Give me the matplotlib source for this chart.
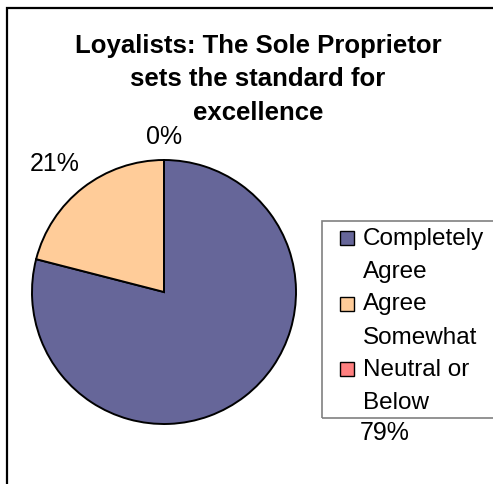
import matplotlib
matplotlib.use('Agg')
import matplotlib.pyplot as plt
from matplotlib.patches import Rectangle

# Data
categories = ['Completely\nAgree', 'Agree\nSomewhat', 'Neutral or\nBelow']
values = [79, 21, 0]
pct_labels = ['79%', '21%', '0%']
colors = ['#666699', '#FFCC99', '#FF8080']
title = 'Loyalists: The Sole Proprietor\nsets the standard for\nexcellence'

plt.rcParams['font.family'] = ['Liberation Sans', 'DejaVu Sans']

W, H = 493, 485
fig = plt.figure(figsize=(W / 100, H / 100), dpi=100)

# outer chart frame (runs off the right and bottom edges)
fig.patches.append(Rectangle((7 / W, -0.05), 1.1, 1 - 9 / H + 0.05, transform=fig.transFigure,
                             fill=False, edgecolor='black', linewidth=1.6))

# pie axes
cx, cy, r = 164, 293, 132
ax = fig.add_axes([(cx - r) / W, 1 - (cy + r) / H, 2 * r / W, 2 * r / H])
wedges, _ = ax.pie(values, colors=colors, startangle=90, counterclock=False,
                   wedgeprops=dict(edgecolor='black', linewidth=1.4))
ax.set_xlim(-1, 1)
ax.set_ylim(-1, 1)
ax.set_aspect('equal')

# percentage labels (positions as Excel placed them)
label_pos = [(1.67, -1.06), (-0.83, 0.98), (0.0, 1.18)]
for txt, (x, y) in zip(pct_labels, label_pos):
    ax.text(x, y, txt, ha='center', va='center', fontsize=18, clip_on=False)

# title
fig.text(258 / W, 1 - 79.5 / H, title, ha='center', va='center', fontsize=18.5,
         fontweight='bold', linespacing=1.48)

# legend (Excel style: marker beside first line of a wrapped label)
fig.patches.append(Rectangle((322 / W, 1 - 419 / H), 0.5, 197 / H, transform=fig.transFigure,
                             fill=False, edgecolor='#808080', linewidth=1.2))
for i, (cat, col) in enumerate(zip(categories, colors)):
    y = 239 + i * 65.5
    fig.patches.append(Rectangle((340 / W, 1 - (y + 7) / H), 14 / W, 14 / H,
                                 transform=fig.transFigure, facecolor=col,
                                 edgecolor='black', linewidth=1.0))
    fig.text(363 / W, 1 - (y - 11) / H, cat, ha='left', va='top', fontsize=17.5,
             linespacing=1.66)

fig.savefig('out.png', dpi=100)
